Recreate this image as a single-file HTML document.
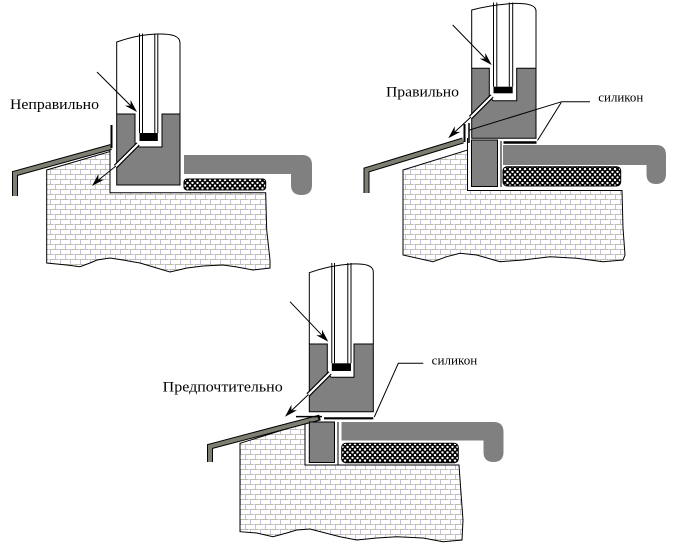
<!DOCTYPE html>
<html><head><meta charset="utf-8"><style>
html,body{margin:0;padding:0;background:#fff;}
svg{display:block;}
text{font-family:"Liberation Serif","Times New Roman",serif;fill:#000;}
</style></head><body>
<svg width="697" height="544" viewBox="0 0 697 544" xmlns="http://www.w3.org/2000/svg">
<defs>
<pattern id="brick" width="10" height="10" patternUnits="userSpaceOnUse">
<rect width="10" height="10" fill="#fff"/>
<rect y="4" width="10" height="1" fill="#c4bea6"/>
<rect y="9" width="10" height="1" fill="#c4bea6"/>
<rect x="0" y="0" width="1" height="4" fill="#c0c0f4"/>
<rect x="5" y="5" width="1" height="4" fill="#c0c0f4"/>
<rect x="3" y="4" width="2" height="1" fill="#d0d0f8"/>
<rect x="8" y="9" width="2" height="1" fill="#d0d0f8"/>
</pattern>
<pattern id="mesh" width="5" height="5.5" patternUnits="userSpaceOnUse">
<rect width="5" height="5.5" fill="#000"/>
<circle cx="2.5" cy="1.4" r="1.2" fill="#fff"/>
<circle cx="0" cy="4.1" r="1.2" fill="#fff"/>
<circle cx="5" cy="4.1" r="1.2" fill="#fff"/>
</pattern>
</defs>

<!-- ================= TOP LEFT ================= -->
<path d="M46.7,170 L110,151.5 L110,192.7 L265.7,192.7 L266.7,230 L270,260 L270,268 L253,270 L237,267 L223,265 L203,266 L187,268 L170,272 L140,263 L123,260 L110,258 L97,260 L90,263 L80,266.7 L66.7,265 L46.7,263 Z" fill="url(#brick)" stroke="#000" stroke-width="1"/>
<line x1="110" y1="147" x2="110" y2="152" stroke="#000" stroke-width="1"/>
<polyline points="111,147 15,173.5 15,196" fill="none" stroke="#000" stroke-width="6" stroke-linejoin="miter"/>
<polyline points="111,147 15,173.5 15,196" fill="none" stroke="#7e7e72" stroke-width="4" stroke-linejoin="miter"/>
<line x1="111.5" y1="125" x2="111.5" y2="148" stroke="#000" stroke-width="2"/>
<path d="M184,155 H302 Q312,155 312,165 V185 Q312,195 301.5,195 Q291,195 291,185 V174 H184 Z" fill="#808080"/>
<rect x="184" y="179" width="81.7" height="11" rx="3" fill="url(#mesh)" stroke="#000" stroke-width="1"/>
<path d="M116.7,114 V42 C128,38 142,34.5 157,34 C172,33.5 180,36 180,43 V114" fill="#fff" stroke="#000" stroke-width="1"/>
<polygon points="116.7,114 135,114 135,143 139,147 162,147 162,114 180,114 180,185 116.7,185" fill="#808080" stroke="#000" stroke-width="1"/>
<g stroke="#000" stroke-width="1">
<line x1="139.5" y1="33.5" x2="139.5" y2="133"/>
<line x1="142.5" y1="33.5" x2="142.5" y2="133"/>
<line x1="154.8" y1="33.5" x2="154.8" y2="133"/>
<line x1="157.8" y1="33.5" x2="157.8" y2="133"/>
</g>
<rect x="139.5" y="133" width="18.3" height="8" fill="#000"/>
<line x1="138" y1="144" x2="115.5" y2="166.5" stroke="#000" stroke-width="4.5"/>
<line x1="138" y1="144" x2="115.5" y2="166.5" stroke="#fff" stroke-width="2.2"/>
<line x1="116" y1="166" x2="96" y2="182" stroke="#000" stroke-width="1"/>
<polygon points="92,186 104,179.6 98.4,179.6 98.4,174" fill="#000"/>
<line x1="97" y1="72" x2="133" y2="108" stroke="#000" stroke-width="1"/>
<polygon points="137,112 130.6,100 130.6,105.6 125,105.6" fill="#000"/>
<text x="10" y="109" font-size="15" font-family="Liberation Serif, serif" textLength="89" lengthAdjust="spacingAndGlyphs">Неправильно</text>

<!-- ================= TOP RIGHT ================= -->
<path d="M403,170 L467.5,150 L467.5,190.5 L622,190.5 L623,228 L625,255 L623,260 L603,261.7 L576.7,258.3 L550,256.7 L523,260 L500,261.7 L476.7,255 L460,253.3 L446.7,256.7 L433,261.7 L403,255 Z" fill="url(#brick)" stroke="#000" stroke-width="1"/>
<line x1="467.5" y1="138" x2="467.5" y2="150" stroke="#000" stroke-width="1"/>
<polyline points="463,140.5 366.5,170 366.5,193" fill="none" stroke="#000" stroke-width="6" stroke-linejoin="miter"/>
<polyline points="463,140.5 366.5,170 366.5,193" fill="none" stroke="#7e7e72" stroke-width="4" stroke-linejoin="miter"/>
<line x1="464.5" y1="124" x2="464.5" y2="142" stroke="#000" stroke-width="2"/>
<line x1="469" y1="123" x2="469" y2="143" stroke="#000" stroke-width="1.5"/>
<path d="M503,145 H656 Q666,145 666,155 V174 Q666,184 656,184 Q646.5,184 646.5,174 V165 H503 Z" fill="#808080"/>
<rect x="503" y="166.7" width="117.7" height="19.3" rx="4" fill="url(#mesh)" stroke="#000" stroke-width="1"/>
<rect x="471.5" y="140" width="26" height="46.5" fill="#808080" stroke="#000" stroke-width="1"/>
<line x1="501" y1="141" x2="501" y2="187" stroke="#000" stroke-width="1"/>
<line x1="503.5" y1="142.5" x2="536.5" y2="142.5" stroke="#000" stroke-width="2.5"/>
<path d="M471.7,68.3 V10 C483,7 497,4.5 512,3.5 C527,3 536,5 536,11 V68.3" fill="#fff" stroke="#000" stroke-width="1"/>
<polygon points="471.7,68.3 489.3,68.3 489.3,96 493,100.7 516.7,100.7 516.7,68.3 536,68.3 536,138.3 471.7,138.3" fill="#808080" stroke="#000" stroke-width="1"/>
<g stroke="#000" stroke-width="1">
<line x1="493.5" y1="2.5" x2="493.5" y2="86.7"/>
<line x1="496.8" y1="2.5" x2="496.8" y2="86.7"/>
<line x1="509.3" y1="2.5" x2="509.3" y2="86.7"/>
<line x1="512.7" y1="2.5" x2="512.7" y2="86.7"/>
</g>
<rect x="493.5" y="86.7" width="19.2" height="6.6" fill="#000"/>
<line x1="492" y1="96" x2="470.5" y2="117.5" stroke="#000" stroke-width="4.5"/>
<line x1="492" y1="96" x2="470.5" y2="117.5" stroke="#fff" stroke-width="2.2"/>
<line x1="471" y1="117" x2="452" y2="134.5" stroke="#000" stroke-width="1"/>
<polygon points="448.3,138.3 460.3,131.9 454.7,131.9 454.7,126.3" fill="#000"/>
<line x1="452.7" y1="25" x2="487.7" y2="61" stroke="#000" stroke-width="1"/>
<polygon points="491.7,65 485.3,53 485.3,58.6 479.7,58.6" fill="#000"/>
<g stroke="#000" stroke-width="1" fill="none">
<polyline points="590,101.7 561.7,101.7 469.5,130"/>
<line x1="561.2" y1="102.5" x2="537.5" y2="140.5"/>
</g>
<text x="386" y="96.5" font-size="15" font-family="Liberation Serif, serif" textLength="73" lengthAdjust="spacingAndGlyphs">Правильно</text>
<text x="598.3" y="101.7" font-size="13" font-family="Liberation Serif, serif" textLength="45" lengthAdjust="spacingAndGlyphs">силикон</text>

<!-- ================= BOTTOM ================= -->
<path d="M240,443.3 L305,423 L305,465 L459,465 L461,493 L463,520 L462,540 L443,541.7 L423,538 L396.7,536.7 L376.7,538 L356.7,540 L340,536.7 L310,529 L296.7,530 L286.7,533 L273,536.7 L256.7,533 L240,531.7 Z" fill="url(#brick)" stroke="#000" stroke-width="1"/>
<line x1="305" y1="419" x2="305" y2="423" stroke="#000" stroke-width="1"/>
<polyline points="320,417.5 210,446.5 210,462" fill="none" stroke="#000" stroke-width="6" stroke-linejoin="miter"/>
<polyline points="318,418 210,446.5 210,462" fill="none" stroke="#7e7e72" stroke-width="4" stroke-linejoin="miter"/>
<line x1="296" y1="416.6" x2="322" y2="416.6" stroke="#000" stroke-width="1.5"/>
<path d="M341.5,422 H493.5 Q503.5,422 503.5,432 V452 Q503.5,462 493.5,462 Q483.5,462 483.5,452 V440.5 H341.5 Z" fill="#808080"/>
<rect x="341.7" y="443.3" width="116.6" height="19.4" rx="4" fill="url(#mesh)" stroke="#000" stroke-width="1"/>
<rect x="309.3" y="422" width="25.2" height="40.5" fill="#808080" stroke="#000" stroke-width="1"/>
<line x1="338" y1="422" x2="338" y2="465" stroke="#000" stroke-width="1"/>
<line x1="324" y1="418.3" x2="373.3" y2="418.3" stroke="#000" stroke-width="2.2"/>
<path d="M309.3,344 V272.7 C321,268.5 336,265 351,264 C366,263.5 373.3,265.5 373.3,272 V344" fill="#fff" stroke="#000" stroke-width="1"/>
<polygon points="309.3,344 327.3,344 327.3,373 331,377.3 354,377.3 354,344 373.3,344 373.3,411.7 309.3,411.7" fill="#808080" stroke="#000" stroke-width="1"/>
<g stroke="#000" stroke-width="1">
<line x1="331.8" y1="263" x2="331.8" y2="363.3"/>
<line x1="334.5" y1="263" x2="334.5" y2="363.3"/>
<line x1="347.8" y1="263" x2="347.8" y2="363.3"/>
<line x1="351" y1="263" x2="351" y2="363.3"/>
</g>
<rect x="331.8" y="363.3" width="19.2" height="7.7" fill="#000"/>
<line x1="330" y1="373" x2="308" y2="395" stroke="#000" stroke-width="4.5"/>
<line x1="330" y1="373" x2="308" y2="395" stroke="#fff" stroke-width="2.2"/>
<line x1="308.5" y1="394.5" x2="289" y2="413" stroke="#000" stroke-width="1"/>
<polygon points="285,416.7 297,410.3 291.4,410.3 291.4,404.7" fill="#000"/>
<line x1="290" y1="301.7" x2="324.3" y2="337.7" stroke="#000" stroke-width="1"/>
<polygon points="328.3,341.7 322,329.7 322,335.3 316.3,335.3" fill="#000"/>
<polyline points="374.3,417 398.3,363.3 423.3,363.3" fill="none" stroke="#000" stroke-width="1"/>
<text x="162.7" y="391.7" font-size="15" font-family="Liberation Serif, serif" textLength="120" lengthAdjust="spacingAndGlyphs">Предпочтительно</text>
<text x="431.7" y="364.3" font-size="13" font-family="Liberation Serif, serif" textLength="45.6" lengthAdjust="spacingAndGlyphs">силикон</text>
</svg>
</body></html>
